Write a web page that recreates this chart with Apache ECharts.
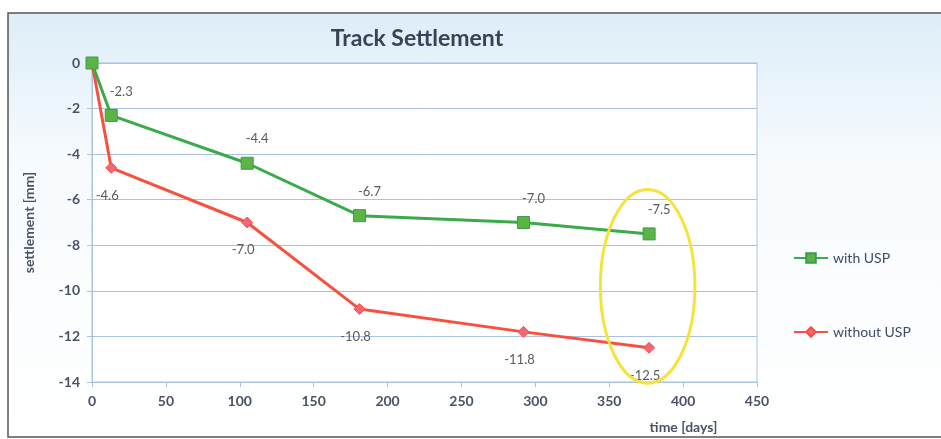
<!DOCTYPE html>
<html>
<head>
<meta charset="utf-8">
<style>
  html, body { margin: 0; padding: 0; background: #ffffff; }
  #chart { width: 941px; height: 439px; }
</style>
<script src="https://cdn.jsdelivr.net/npm/echarts@6/dist/echarts.min.js"></script>
</head>
<body>
<div id="chart"></div>
<script>
// Measurement days and settlement values (mm)
const days = [0, 13, 105, 181, 292, 377];
const withUSP = [0, -2.3, -4.4, -6.7, -7.0, -7.5];
const withoutUSP = [0, -4.6, -7.0, -10.8, -11.8, -12.5];
const seriesNames = ['with USP', 'without USP'];

// Highlight ring around the final readings (data units: centre day, centre mm, half-width days, half-height mm)
const highlight = { cx: 376, cy: -9.8, rx: 32, ry: 4.25 };

const chart = echarts.init(document.getElementById('chart'));
const font = 'Lato, "Open Sans", "Liberation Sans", sans-serif';
const axisText = { color: '#4a5266', fontSize: 14, fontWeight: 'bold', fontFamily: font };

const pairs = (ys) => days.map((d, i) => [d, ys[i]]);

chart.setOption({
  animation: false,
  backgroundColor: '#ffffff',
  title: {
    text: 'Track Settlement',
    left: 412, top: 22, textAlign: 'center',
    textStyle: { color: '#3b4256', fontSize: 23, fontWeight: 'bold', fontFamily: font }
  },
  grid: {
    left: 92, right: 184, top: 63, bottom: 55,
    show: true, backgroundColor: '#ffffff', borderColor: '#a9c3de', borderWidth: 1
  },
  legend: {
    orient: 'vertical',
    left: 788, top: 246,
    itemGap: 60,
    itemWidth: 34, itemHeight: 12,
    textStyle: { color: '#3f4a68', fontSize: 14, fontFamily: font },
    data: seriesNames
  },
  xAxis: {
    type: 'value', min: 0, max: 450, interval: 50,
    name: 'time [days]', nameLocation: 'middle', nameGap: 38,
    nameTextStyle: Object.assign({}, axisText, { padding: [0, 0, 0, 518] }),
    axisLine: { show: true, onZero: false, lineStyle: { color: '#a9c3de' } },
    axisTick: { show: true, length: 5, lineStyle: { color: '#a9c3de' } },
    axisLabel: Object.assign({ margin: 12 }, axisText),
    splitLine: { show: false }
  },
  yAxis: {
    type: 'value', min: -14, max: 0, interval: 2,
    name: 'settlement [mm]', nameLocation: 'middle', nameGap: 56, nameRotate: 90,
    nameTextStyle: axisText,
    axisLine: { show: true, onZero: false, lineStyle: { color: '#a9c3de' } },
    axisTick: { show: true, length: 5, lineStyle: { color: '#a9c3de' } },
    axisLabel: Object.assign({ margin: 12 }, axisText),
    splitLine: { show: true, lineStyle: { color: '#a9c3de', width: 1 } }
  },
  series: [
    {
      name: seriesNames[1],
      type: 'line',
      data: pairs(withoutUSP),
      symbol: 'diamond', symbolSize: 11,
      lineStyle: { color: '#f8503f', width: 3 },
      itemStyle: { color: '#f2667a', borderColor: '#f8503f', borderWidth: 1 },
      label: {
        show: true, position: 'bottom', offset: [-4, 10],
        color: '#5a5a5a', fontSize: 13, fontFamily: font,
        formatter: (p) => p.dataIndex === 0 ? '' : p.value[1].toFixed(1)
      },
      z: 3
    },
    {
      name: seriesNames[0],
      type: 'line',
      data: pairs(withUSP),
      symbol: 'rect', symbolSize: 12,
      lineStyle: { color: '#3aaa4b', width: 3 },
      itemStyle: { color: '#5bb544', borderColor: '#3d9a52', borderWidth: 1 },
      label: {
        show: true, position: 'top', offset: [10, -6],
        color: '#5a5a5a', fontSize: 13, fontFamily: font,
        formatter: (p) => p.dataIndex === 0 ? '' : p.value[1].toFixed(1)
      },
      z: 4
    }
  ]
});

// Frame, pale blue wash and the highlight ring, placed through the axes
const c = chart.convertToPixel({ gridIndex: 0 }, [highlight.cx, highlight.cy]);
const e = chart.convertToPixel({ gridIndex: 0 }, [highlight.cx + highlight.rx, highlight.cy - highlight.ry]);
chart.setOption({
  graphic: [
    {
      type: 'rect', z: -10, silent: true,
      shape: { x: 8, y: 13, width: 960, height: 424 },
      style: {
        fill: new echarts.graphic.LinearGradient(0, 0, 0, 1, [
          { offset: 0, color: '#dcedf8' },
          { offset: 0.35, color: '#f7fbfe' },
          { offset: 1, color: '#ffffff' }
        ]),
        stroke: '#555555', lineWidth: 1.5
      }
    },
    {
      type: 'ellipse', z: 10, silent: true,
      shape: { cx: c[0], cy: c[1], rx: e[0] - c[0], ry: e[1] - c[1] },
      style: { fill: 'none', stroke: '#f6e23c', lineWidth: 3 }
    }
  ]
});
</script>
</body>
</html>
